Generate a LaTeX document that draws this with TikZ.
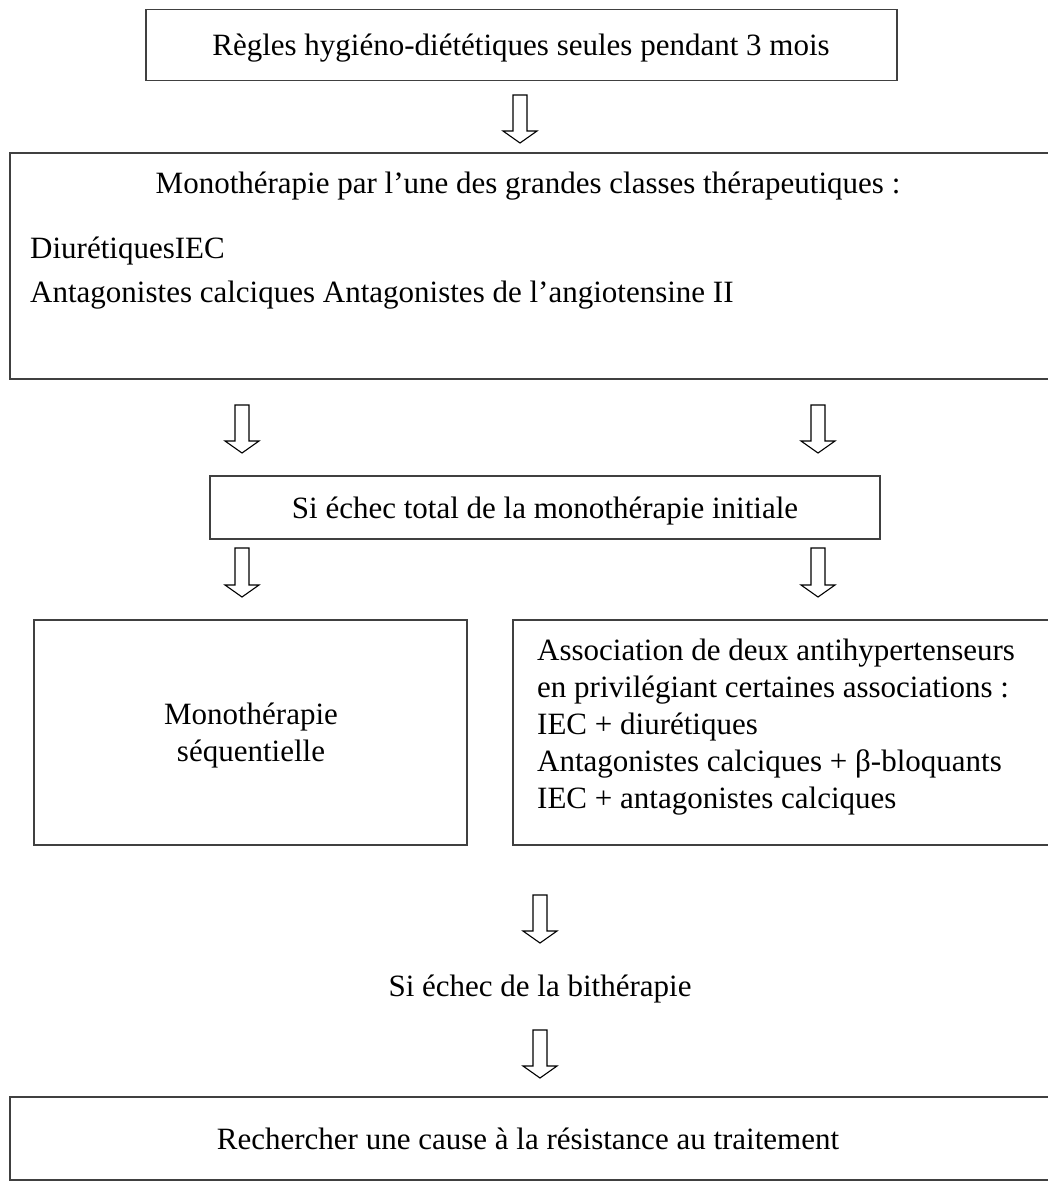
\documentclass[tikz,border=0pt]{standalone}
\usepackage{fontspec}
\setmainfont{Liberation Serif}
\usetikzlibrary{calc}
\begin{document}
\begin{tikzpicture}[x=1pt,y=-1pt,
  box/.style={draw=black!75,line width=1.3pt},
  txt/.style={font=\fontsize{31}{37}\selectfont,inner sep=0pt,anchor=base},
  txtl/.style={font=\fontsize{31}{37}\selectfont,inner sep=0pt,anchor=base west},
  bigarrow/.style={draw=black,line width=1.1pt,fill=white,line join=miter}]
\useasboundingbox (0,0) rectangle (1047,1188);
\newcommand{\hollowarrow}[4]{% name, x, ytop, ytip
  \coordinate (#1) at (#2,#4);
  \draw[bigarrow] ($(#2,#3)+(-7,0)$) -- ($(#2,#4)+(-7,-12)$) -- ($(#2,#4)+(-17,-12)$) -- (#1) -- ($(#2,#4)+(17,-12)$) -- ($(#2,#4)+(7,-12)$) -- ($(#2,#3)+(7,0)$) -- cycle;}
% Box 1
\draw[box] (146,9.5) rectangle (897,80.5);
\node[txt] (t1) at (521,56) {Règles hygiéno-diététiques seules pendant 3 mois};
\hollowarrow{a1}{520}{95}{143}
% Box 2
\draw[box] (10,153) rectangle (1052,379);
\node[txt] (t2) at (528,193) {Monothérapie par l’une des grandes classes thérapeutiques :};
\node[txtl] (t2a) at (30,258) {DiurétiquesIEC};
\node[txtl] (t2b) at (30,302) {Antagonistes calciques Antagonistes de l’angiotensine II};
\hollowarrow{a2l}{242}{405}{453}
\hollowarrow{a2r}{818}{405}{453}
% Box 3
\draw[box] (210,476) rectangle (880,539);
\node[txt] (t3) at (545,518) {Si échec total de la monothérapie initiale};
\hollowarrow{a3l}{242}{548}{597}
\hollowarrow{a3r}{818}{548}{597}
% Box 4
\draw[box] (34,620) rectangle (467,845);
\node[txt] (t4a) at (251,724) {Monothérapie};
\node[txt] (t4b) at (251,761) {séquentielle};
% Box 5
\draw[box] (513,620) rectangle (1052,845);
\node[txtl] (t5a) at (537,660) {Association de deux antihypertenseurs};
\node[txtl] (t5b) at (537,697) {en privilégiant certaines associations :};
\node[txtl] (t5c) at (537,734) {IEC + diurétiques};
\node[txtl] (t5d) at (537,771) {Antagonistes calciques + β-bloquants};
\node[txtl] (t5e) at (537,808) {IEC + antagonistes calciques};
\hollowarrow{a4}{540}{895}{943}
\node[txt] (t6) at (540,996) {Si échec de la bithérapie};
\hollowarrow{a5}{540}{1030}{1078}
% Box 6
\draw[box] (10,1097) rectangle (1052,1180);
\node[txt] (t7) at (528,1149) {Rechercher une cause à la résistance au traitement};
\end{tikzpicture}
\end{document}
